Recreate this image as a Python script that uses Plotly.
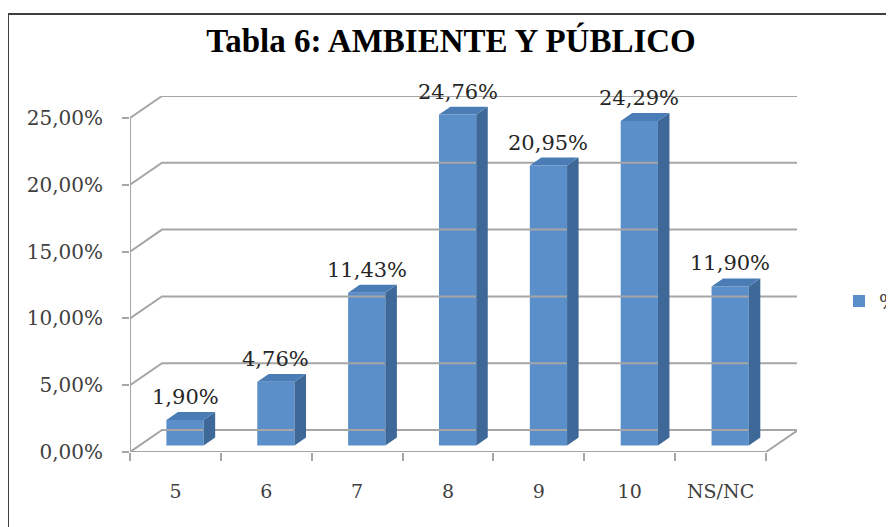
import plotly.graph_objects as go

categories = ["5", "6", "7", "8", "9", "10", "NS/NC"]
percent = [1.90, 4.76, 11.43, 24.76, 20.95, 24.29, 11.90]
y_ticks = [0, 5, 10, 15, 20, 25]
title_text = "Tabla 6: AMBIENTE Y PÚBLICO"
series_name = "%"

# the page body adds an 8px margin, so the figure is drawn 8px smaller
W, H = 886, 519
ML, MR, MT, MB = 122, 97, 88, 75
plot_w = W - ML - MR
plot_h = H - MT - MB

PX_X = 636 / len(categories)   # px per category on the front plane
PX_Y = 334 / 25                # px per percent point on the front plane
DXU = 32 / PX_X                # depth offset of the back wall, in x units
DYU = 22 / PX_Y                # depth offset of the back wall, in y units
F0, F1 = 0.30, 0.66            # bar front / back depth fraction
BAR_W = 0.41

FRONT = "#5B8FCA"
SIDE = "#3D6898"
TOP = "#4A7CB5"
GRID = "#A6A6A6"
TXT = "#404040"


def fmt(v):
    return f"{v:.2f}".replace(".", ",") + "%"


n = len(categories)
x_lo, x_hi = -0.5, n - 0.5

# back wall grid lines with the slanted link to the front axis
gx, gy = [], []
for v in y_ticks:
    gx += [x_lo, x_lo + DXU, x_hi + DXU, None]
    gy += [v, v + DYU, v + DYU, None]
# front floor edge, right floor edge, front value axis
gx += [x_lo, x_hi, x_hi + DXU, None, x_lo, x_lo, None]
gy += [0, 0, DYU, None, 0, y_ticks[-1], None]

fig = go.Figure()
fig.add_trace(go.Scatter(x=gx, y=gy, mode="lines", line=dict(color=GRID, width=2),
                         hoverinfo="skip", showlegend=False))

xs = [i + F0 * DXU for i in range(n)]
base = F0 * DYU
d = F1 - F0

fig.add_trace(go.Bar(x=xs, y=percent, base=base, width=BAR_W, name=series_name,
                     marker=dict(color=FRONT, line=dict(width=0))))

sx, sy, tx, ty = [], [], [], []
for x, v in zip(xs, percent):
    xl, xr = x - BAR_W / 2, x + BAR_W / 2
    top = base + v
    sx += [xr, xr + d * DXU, xr + d * DXU, xr, xr, None]
    sy += [base, base + d * DYU, top + d * DYU, top, base, None]
    tx += [xl, xl + d * DXU, xr + d * DXU, xr, xl, None]
    ty += [top, top + d * DYU, top + d * DYU, top, top, None]

fig.add_trace(go.Scatter(x=sx, y=sy, mode="lines", fill="toself", fillcolor=SIDE,
                         line=dict(width=0, color=SIDE), hoverinfo="skip", showlegend=False))
fig.add_trace(go.Scatter(x=tx, y=ty, mode="lines", fill="toself", fillcolor=TOP,
                         line=dict(width=0, color=TOP), hoverinfo="skip", showlegend=False))

for x, v in zip(xs, percent):
    fig.add_annotation(x=x, y=base + v, text=fmt(v), showarrow=False, yanchor="middle",
                       yshift=23, font=dict(family="DejaVu Serif", size=21, color="#262626"))

fig.update_layout(
    width=W,
    height=H,
    margin=dict(l=ML, r=MR, t=MT, b=MB, autoexpand=False),
    paper_bgcolor="white",
    plot_bgcolor="white",
    title=dict(text=title_text, x=443 / W, xanchor="center", y=1 - 32 / H, yanchor="middle",
               yref="container",
               font=dict(family="Liberation Serif", size=33, color="black", weight="bold")),
    legend=dict(x=(831 - ML) / plot_w, xanchor="left", y=(444 - 293) / plot_h, yanchor="middle",
                font=dict(family="DejaVu Serif", size=20, color=TXT), bgcolor="rgba(0,0,0,0)"),
    showlegend=True,
    shapes=[dict(type="rect", xref="paper", yref="paper",
                 x0=(0 - ML) / plot_w, x1=1.6, y0=-0.6, y1=(444 - 6) / plot_h,
                 line=dict(color="#3F3F3F", width=2), fillcolor="rgba(0,0,0,0)", layer="below")],
)

fig.update_xaxes(
    range=[x_lo, x_lo + plot_w / PX_X],
    tickvals=list(range(n)), ticktext=categories, ticks="",
    ticklabelstandoff=26,
    tickfont=dict(family="DejaVu Serif", size=19, color=TXT),
    minor=dict(tickvals=[i - 0.5 for i in range(n + 1)], ticks="outside", ticklen=8,
               tickcolor=GRID, tickwidth=2, showgrid=False),
    showgrid=False, zeroline=False, showline=False, fixedrange=True,
)
fig.update_yaxes(
    range=[0, plot_h / PX_Y],
    tickvals=y_ticks, ticktext=[fmt(v) for v in y_ticks],
    ticks="outside", ticklen=7, tickcolor=GRID, tickwidth=2,
    ticklabelstandoff=15,
    tickfont=dict(family="DejaVu Serif", size=20, color=TXT),
    showgrid=False, zeroline=False, showline=False, fixedrange=True,
)

fig.write_html("out.html")
